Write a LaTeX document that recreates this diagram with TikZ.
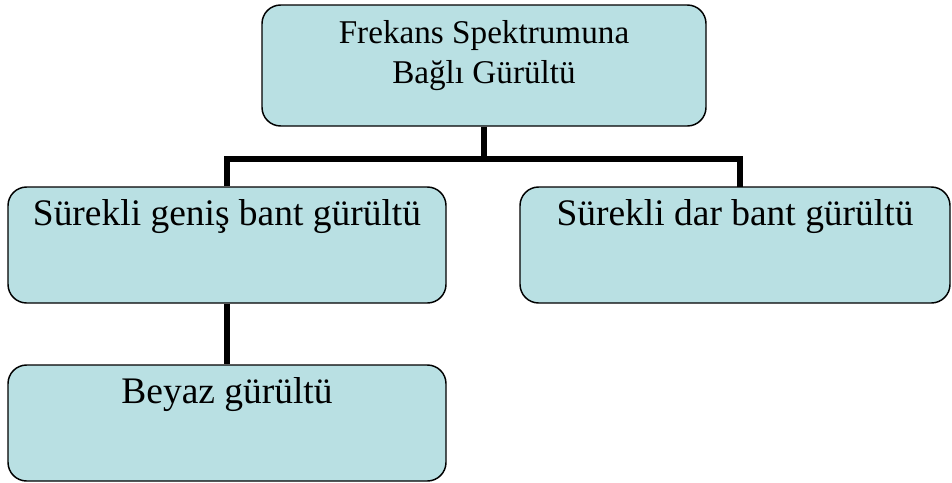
\documentclass[tikz,border=0pt]{standalone}
\usepackage{fontspec}
\setmainfont{Liberation Serif}
\definecolor{boxfill}{RGB}{185,224,227}
\begin{document}
\begin{tikzpicture}[x=0.75pt,y=-0.75pt,
  box/.style={draw=black,line width=1.1pt,fill=boxfill,rounded corners=14pt,inner sep=0pt,align=center},
  midbox/.style={box,text height=28.5pt,text depth=58.5pt,font=\fontsize{28.1}{33}\selectfont},
  conn/.style={draw=black,line width=4.2pt}]
\useasboundingbox (0,0) rectangle (952,482);
\node[box,minimum width=333pt,text height=28.5pt,text depth=62.25pt,font=\fontsize{24.9}{30}\selectfont] (top) at (484,65.5)
  {\begin{tabular}[t]{@{}c@{}}Frekans Spektrumuna\\Bağlı Gürültü\end{tabular}};
\node[midbox,minimum width=328.5pt] (left) at (227,245) {Sürekli geniş bant gürültü};
\node[midbox,minimum width=322.5pt] (right) at (735,245) {Sürekli dar bant gürültü};
\node[midbox,minimum width=328.5pt] (bottom) at (227,423) {Beyaz gürültü};
\coordinate (hub) at (484,159);
\coordinate (rtop) at (740,187);
\draw[conn] (top.south) -- (hub);
\draw[conn] (left.north) |- (hub) -| (rtop);
\draw[conn] (left.south) -- (bottom.north);
\end{tikzpicture}
\end{document}
